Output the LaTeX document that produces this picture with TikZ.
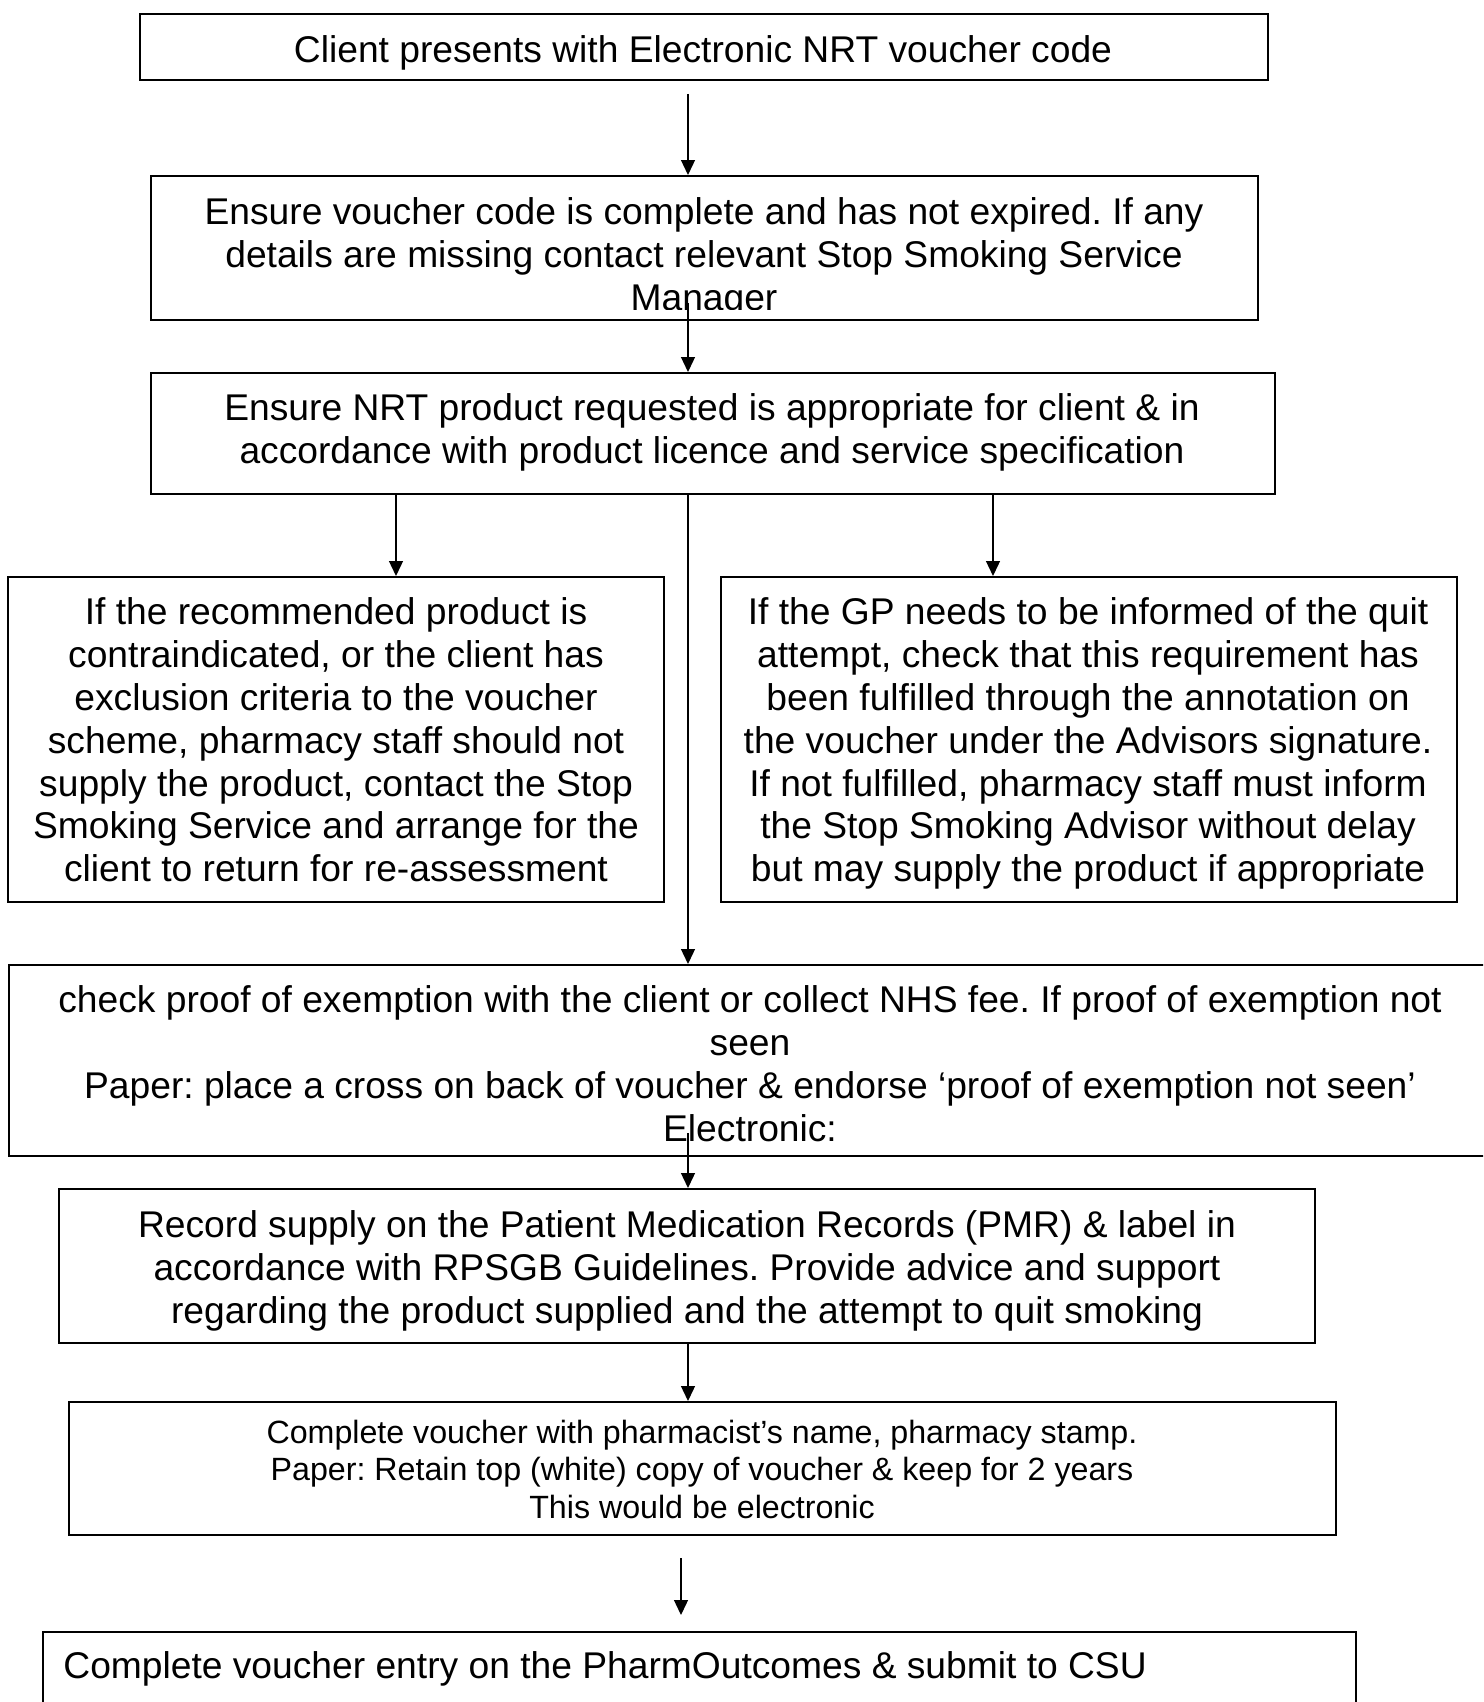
\documentclass[tikz,border=0pt]{standalone}
\usepackage{fontspec}
\setmainfont{Liberation Sans}
\usetikzlibrary{arrows.meta,fit}
\newcommand\firstln{\rule{0pt}{14pt}}
\newcommand\firstsm{\rule{0pt}{12pt}}
\frenchspacing
\begin{document}
\begin{tikzpicture}[x=0.5pt,y=-0.5pt,
  box/.style={draw, line width=1pt, inner sep=0pt, rectangle},
  txt/.style={inner sep=0pt, align=center, font={\fontsize{18.6}{21.4}\selectfont}, anchor=north},
  smalltxt/.style={inner sep=0pt, align=center, font={\fontsize{16.1}{18.75}\selectfont}, anchor=north},
  arr/.style={line width=0.65pt, -{Triangle[length=7.5pt,width=7pt]}}]
\clip (0,0) rectangle (1483,1702);
\fill[white] (0,0) rectangle (1483,1702);
% boxes
\node[box, fit={(140,14) (1268,80)}] (b1) {};
\node[box, fit={(151,176) (1258,320)}] (b2) {};
\node[box, fit={(151,373) (1275,494)}] (b3) {};
\node[box, fit={(8,577) (664,902)}] (b4) {};
\node[box, fit={(721,577) (1457,902)}] (b5) {};
\node[box, fit={(9,965) (1492,1156)}] (b6) {};
\node[box, fit={(59,1189) (1315,1343)}] (b7) {};
\node[box, fit={(69,1402) (1336,1535)}] (b8) {};
\node[box, fit={(43,1632) (1356,1730)}] (b9) {};
% texts
\node[txt] (t1) at (703,34.5) {\firstln Client presents with Electronic NRT voucher code};
\begin{scope}
\clip (151,176) rectangle (1258,309.5);
\node[txt] (t2) at (704,196) {\firstln Ensure voucher code is complete and has not expired. If any\\ details are missing contact relevant Stop Smoking Service\\ Manager};
\end{scope}
\node[txt] (t3) at (712,392.5) {\firstln Ensure NRT product requested is appropriate for client \& in\\ accordance with product licence and service specification};
\node[txt] (t4) at (336,596.5) {\firstln If the recommended product is\\ contraindicated, or the client has\\ exclusion criteria to the voucher\\ scheme, pharmacy staff should not\\ supply the product, contact the Stop\\ Smoking Service and arrange for the\\ client to return for re-assessment};
\node[txt] (t5) at (1088,596.5) {\firstln If the GP needs to be informed of the quit\\ attempt, check that this requirement has\\ been fulfilled through the annotation on\\ the voucher under the Advisors signature.\\ If not fulfilled, pharmacy staff must inform\\ the Stop Smoking Advisor without delay\\ but may supply the product if appropriate};
\node[txt] (t6) at (750,984.5) {\firstln check proof of exemption with the client or collect NHS fee. If proof of exemption not\\ seen\\ Paper: place a cross on back of voucher \& endorse ‘proof of exemption not seen’\\ Electronic:};
\node[txt] (t7) at (687,1209.5) {\firstln Record supply on the Patient Medication Records (PMR) \& label in\\ accordance with RPSGB Guidelines. Provide advice and support\\ regarding the product supplied and the attempt to quit smoking};
\node[smalltxt] (t8) at (702,1419) {\firstsm Complete voucher with pharmacist’s name, pharmacy stamp.\\ Paper: Retain top (white) copy of voucher \& keep for 2 years\\ This would be electronic};
\node[inner sep=0pt, anchor=base west, font={\fontsize{18.6}{21.4}\selectfont}] (t9) at (63,1678.5) {Complete voucher entry on the PharmOutcomes \& submit to CSU};
% connectors
\coordinate (s1) at (688,94);
\draw[arr] (s1) -- (s1 |- b2.north);
\coordinate (s2) at (688,303);
\draw[arr] (s2) -- (s2 |- b3.north);
\coordinate (xl) at (396,0);
\coordinate (xr) at (993,0);
\coordinate (xc) at (688,0);
\draw[arr] (xl |- b3.south) -- (xl |- b4.north);
\draw[arr] (xr |- b3.south) -- (xr |- b5.north);
\draw[arr] (xc |- b3.south) -- (xc |- b6.north);
\coordinate (s4) at (688,1133);
\draw[arr] (s4) -- (s4 |- b7.north);
\draw[arr] (xc |- b7.south) -- (xc |- b8.north);
\coordinate (s6) at (681,1558);
\coordinate (e6) at (681,1615);
\draw[arr] (s6) -- (e6);
\end{tikzpicture}
\end{document}
